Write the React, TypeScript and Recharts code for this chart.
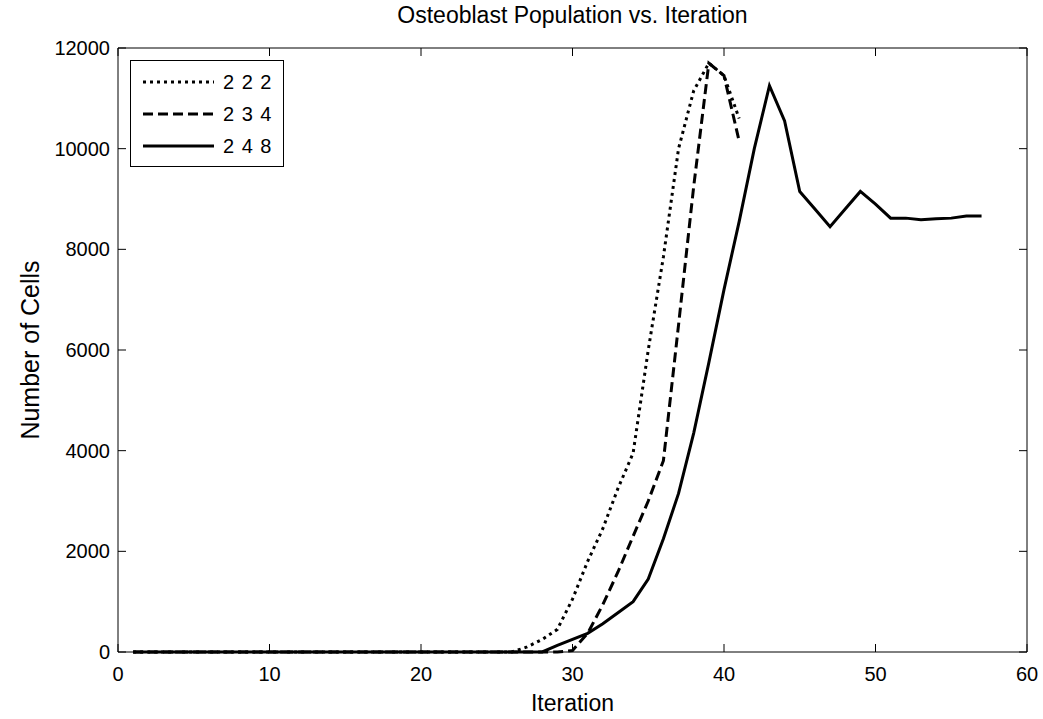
import React from "react";
import { LineChart, Line, XAxis, YAxis, Legend, ReferenceLine } from "recharts";

const iterations: number[] = Array.from({ length: 57 }, (_, i) => i + 1);

const zeros = (n: number): number[] => Array.from({ length: n }, () => 0);

// "2 2 2" (dotted), iterations 1..41
const series222: number[] = [
  ...zeros(26),
  100, 250, 450, 1050, 1800, 2450, 3250, 3950, 6000, 7850, 10000, 11150, 11700, 11450, 10600,
];
// "2 3 4" (dashed), iterations 1..41
const series234: number[] = [
  ...zeros(29),
  30, 370, 940, 1590, 2300, 3000, 3800, 6500, 9250, 11700, 11450, 10150,
];
// "2 4 8" (solid), iterations 1..57
const series248: number[] = [
  ...zeros(28),
  130, 250, 370, 560, 780, 1000, 1450, 2250, 3150, 4350, 5750, 7200, 8550, 10000, 11250,
  10550, 9150, 8800, 8450, 8800, 9150, 8900, 8620, 8620, 8590, 8610, 8620, 8660, 8660,
];

const xTicks: number[] = [0, 10, 20, 30, 40, 50, 60];
const yTicks: number[] = [0, 2000, 4000, 6000, 8000, 10000, 12000];
const xMax = 60;
const yMax = 12000;

const legendItems = [
  { key: "s222", label: "2 2 2", dash: "3 4" },
  { key: "s234", label: "2 3 4", dash: "10 5" },
  { key: "s248", label: "2 4 8", dash: undefined as string | undefined },
];

const data = iterations.map((x, i) => ({
  x,
  s222: i < series222.length ? series222[i] : null,
  s234: i < series234.length ? series234[i] : null,
  s248: i < series248.length ? series248[i] : null,
}));

const W = 1043;
const H = 719;
const PLOT_TOP = 48;
const PLOT_LEFT = 118;
const RIGHT_MARGIN = 16;
const XAXIS_H = 67;
const PLOT_BOTTOM = H - XAXIS_H;
const PLOT_RIGHT = W - RIGHT_MARGIN;
const FONT = "'Liberation Sans', Arial, Helvetica, sans-serif";
const TICK_LEN = 8;

const BottomTick = (props: any) => {
  const { x, payload } = props;
  return (
    <g>
      <line x1={x} x2={x} y1={PLOT_BOTTOM} y2={PLOT_BOTTOM - TICK_LEN} stroke="#000" strokeWidth={1} />
      <line x1={x} x2={x} y1={PLOT_TOP} y2={PLOT_TOP + TICK_LEN} stroke="#000" strokeWidth={1} />
      <text x={x} y={PLOT_BOTTOM + 29} textAnchor="middle" fontFamily={FONT} fontSize={20} fill="#000">
        {payload.value}
      </text>
    </g>
  );
};

const LeftTick = (props: any) => {
  const { y, payload } = props;
  return (
    <g>
      <line x1={PLOT_LEFT} x2={PLOT_LEFT + TICK_LEN} y1={y} y2={y} stroke="#000" strokeWidth={1} />
      <line x1={PLOT_RIGHT} x2={PLOT_RIGHT - TICK_LEN} y1={y} y2={y} stroke="#000" strokeWidth={1} />
      <text x={PLOT_LEFT - 8} y={y + 7} textAnchor="end" fontFamily={FONT} fontSize={20} fill="#000">
        {payload.value}
      </text>
    </g>
  );
};

const LegendBox = () => (
  <svg width={154} height={107} style={{ display: "block" }}>
    <rect x={0.5} y={0.5} width={153} height={106} fill="#fff" stroke="#000" strokeWidth={1} />
    {legendItems.map((it, i) => {
      const cy = 22 + i * 32;
      return (
        <g key={it.key}>
          <line x1={13} x2={84} y1={cy} y2={cy} stroke="#000" strokeWidth={3} strokeDasharray={it.dash} />
          <text x={93} y={cy + 7} fontFamily={FONT} fontSize={20} letterSpacing={1} fill="#000">
            {it.label}
          </text>
        </g>
      );
    })}
  </svg>
);

export default function App() {
  return (
    <div style={{ position: "absolute", left: 0, top: 0, width: W, height: H, background: "#fff" }}>
      <LineChart
        width={W}
        height={H}
        data={data}
        margin={{ top: PLOT_TOP, right: RIGHT_MARGIN, bottom: 0, left: 0 }}
      >
        <XAxis
          xAxisId="b"
          dataKey="x"
          type="number"
          domain={[0, xMax]}
          ticks={xTicks}
          height={XAXIS_H}
          axisLine={{ stroke: "#000", strokeWidth: 1 }}
          tickLine={false}
          tick={<BottomTick />}
          interval={0}
        />
        <YAxis
          yAxisId="l"
          type="number"
          domain={[0, yMax]}
          ticks={yTicks}
          width={PLOT_LEFT}
          axisLine={{ stroke: "#000", strokeWidth: 1 }}
          tickLine={false}
          tick={<LeftTick />}
          interval={0}
        />
        <ReferenceLine xAxisId="b" yAxisId="l" y={yMax} stroke="#000" strokeWidth={1} ifOverflow="visible" />
        <ReferenceLine xAxisId="b" yAxisId="l" x={xMax} stroke="#000" strokeWidth={1} ifOverflow="visible" />
        <Legend
          layout="vertical"
          align="center"
          verticalAlign="middle"
          content={() => <LegendBox />}
          wrapperStyle={{ left: 130, top: 60, width: 154, height: 107 }}
        />
        <Line
          xAxisId="b"
          yAxisId="l"
          dataKey="s222"
          name="2 2 2"
          stroke="#000"
          strokeWidth={3}
          strokeDasharray="3 4"
          dot={false}
          activeDot={false}
          isAnimationActive={false}
          connectNulls={false}
        />
        <Line
          xAxisId="b"
          yAxisId="l"
          dataKey="s234"
          name="2 3 4"
          stroke="#000"
          strokeWidth={3}
          strokeDasharray="10 5"
          dot={false}
          activeDot={false}
          isAnimationActive={false}
          connectNulls={false}
        />
        <Line
          xAxisId="b"
          yAxisId="l"
          dataKey="s248"
          name="2 4 8"
          stroke="#000"
          strokeWidth={3}
          dot={false}
          activeDot={false}
          isAnimationActive={false}
          connectNulls={false}
        />
        <text x={(PLOT_LEFT + PLOT_RIGHT) / 2} y={23} textAnchor="middle" fontFamily={FONT} fontSize={23} fill="#000">
          Osteoblast Population vs. Iteration
        </text>
        <text x={(PLOT_LEFT + PLOT_RIGHT) / 2} y={711} textAnchor="middle" fontFamily={FONT} fontSize={23} fill="#000">
          Iteration
        </text>
        <text
          x={39}
          y={(PLOT_TOP + PLOT_BOTTOM) / 2}
          textAnchor="middle"
          fontFamily={FONT}
          fontSize={25}
          fill="#000"
          transform={`rotate(-90 39 ${(PLOT_TOP + PLOT_BOTTOM) / 2})`}
        >
          Number of Cells
        </text>
      </LineChart>
    </div>
  );
}
